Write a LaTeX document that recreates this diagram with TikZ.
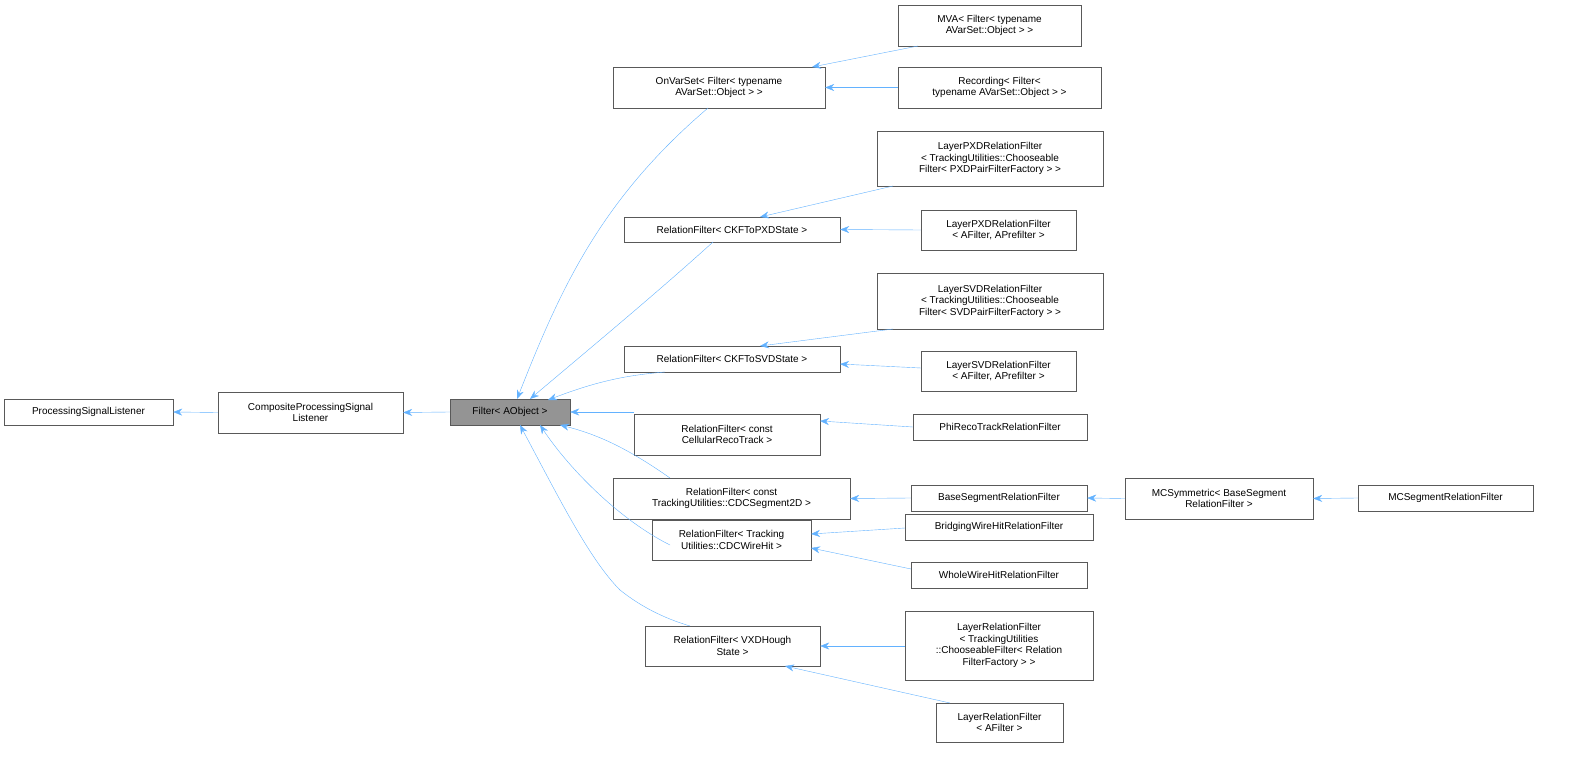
\documentclass[tikz,border=0pt]{standalone}
\usepackage{fontspec}
\setmainfont{Liberation Sans}
\usetikzlibrary{arrows.meta}
\definecolor{edge}{RGB}{99,178,255}
\begin{document}
\begin{tikzpicture}[x=1pt,y=-1pt,
  box/.style={draw=black!65,fill=white,align=center,inner sep=1pt,font=\fontsize{10}{11.5}\selectfont},
  inh/.style={draw=edge,{Stealth[length=9pt,width=7pt,open,fill=edge]}-},
]
\useasboundingbox (0,0) rectangle (1592,759);
\newcommand{\bx}[6]{\node[box,minimum width=#4-#3,minimum height=#6-#5] (#1) at ({(#3+#4)/2},{(#5+#6)/2}) {#2};}
\bx{psl}{ProcessingSignalListener}{4}{173}{399}{425}
\bx{cpsl}{CompositeProcessingSignal\\Listener}{218}{403}{392}{433}
\node[box,fill=black!42,minimum width=120,minimum height=26] (flt) at (510,412) {Filter< AObject >};
\bx{ovs}{OnVarSet< Filter< typename\\ AVarSet::Object > >}{613}{825}{67}{108}
\bx{mva}{MVA< Filter< typename\\ AVarSet::Object > >}{898}{1081}{5}{46}
\bx{rec}{Recording< Filter<\\ typename AVarSet::Object > >}{898}{1101}{67}{108}
\bx{pxd}{RelationFilter< CKFToPXDState >}{624}{840}{217}{242}
\bx{lpa}{LayerPXDRelationFilter\\< TrackingUtilities::Chooseable\\Filter< PXDPairFilterFactory > >}{877}{1103}{131}{186}
\bx{lpb}{LayerPXDRelationFilter\\< AFilter, APrefilter >}{921}{1076}{210}{250}
\bx{svd}{RelationFilter< CKFToSVDState >}{624}{840}{346}{372}
\bx{lsa}{LayerSVDRelationFilter\\< TrackingUtilities::Chooseable\\Filter< SVDPairFilterFactory > >}{877}{1103}{273}{329}
\bx{lsb}{LayerSVDRelationFilter\\< AFilter, APrefilter >}{921}{1076}{351}{391}
\bx{crt}{RelationFilter< const\\CellularRecoTrack >}{634}{820}{414}{455}
\bx{phi}{PhiRecoTrackRelationFilter}{913}{1087}{414}{440}
\bx{seg}{RelationFilter< const\\ TrackingUtilities::CDCSegment2D >}{613}{850}{478}{519}
\bx{bsr}{BaseSegmentRelationFilter}{911}{1087}{485}{511}
\bx{mcs}{MCSymmetric< BaseSegment\\RelationFilter >}{1125}{1313}{478}{519}
\bx{mcr}{MCSegmentRelationFilter}{1358}{1533}{485}{511}
\bx{wh}{RelationFilter< Tracking\\Utilities::CDCWireHit >}{652}{811}{520}{560}
\bx{bwh}{BridgingWireHitRelationFilter}{905}{1093}{514}{540}
\bx{wwh}{WholeWireHitRelationFilter}{911}{1087}{562}{588}
\bx{vxd}{RelationFilter< VXDHough\\State >}{645}{820}{626}{666}
\bx{lra}{LayerRelationFilter\\< TrackingUtilities\\::ChooseableFilter< Relation\\FilterFactory > >}{905}{1093}{611}{680}
\bx{lrb}{LayerRelationFilter\\< AFilter >}{936}{1063}{703}{742}

\draw[inh] (psl.east) -- (cpsl.west);
\draw[inh] (cpsl.east) -- (flt.west);
\draw[inh] (517,399) .. controls (560,290) and (600,200) .. (708,108);
\draw[inh] (530,399) .. controls (600,340) and (660,290) .. (713,242);
\draw[inh] (548,400) .. controls (600,380) and (630,375) .. (665,372);
\draw[inh] (flt.east) -- (crt.west |- flt.east);
\draw[inh] (560,425) .. controls (600,435) and (630,450) .. (670,478);
\draw[inh] (540,425) .. controls (570,470) and (620,520) .. (670,545);
\draw[inh] (520,425) .. controls (560,500) and (590,560) .. (620,590) .. controls (645,610) and (670,620) .. (690,626);
\draw[inh] (812,67) -- (918,46);
\draw[inh] (ovs.east) -- (rec.west);
\draw[inh] (760,217) -- (893,186);
\draw[inh] (pxd.east) -- (lpb.west);
\draw[inh] (760,346) -- (893,329);
\draw[inh] (840,364) -- (921,368);
\draw[inh] (820,421) -- (913,427);
\draw[inh] (seg.east) -- (bsr.west);
\draw[inh] (bsr.east) -- (mcs.west);
\draw[inh] (mcs.east) -- (mcr.west);
\draw[inh] (811,534) -- (905,528);
\draw[inh] (811,548) -- (911,569);
\draw[inh] (vxd.east) -- (lra.west |- vxd.east);
\draw[inh] (785,666) -- (950,703);
\end{tikzpicture}
\end{document}
